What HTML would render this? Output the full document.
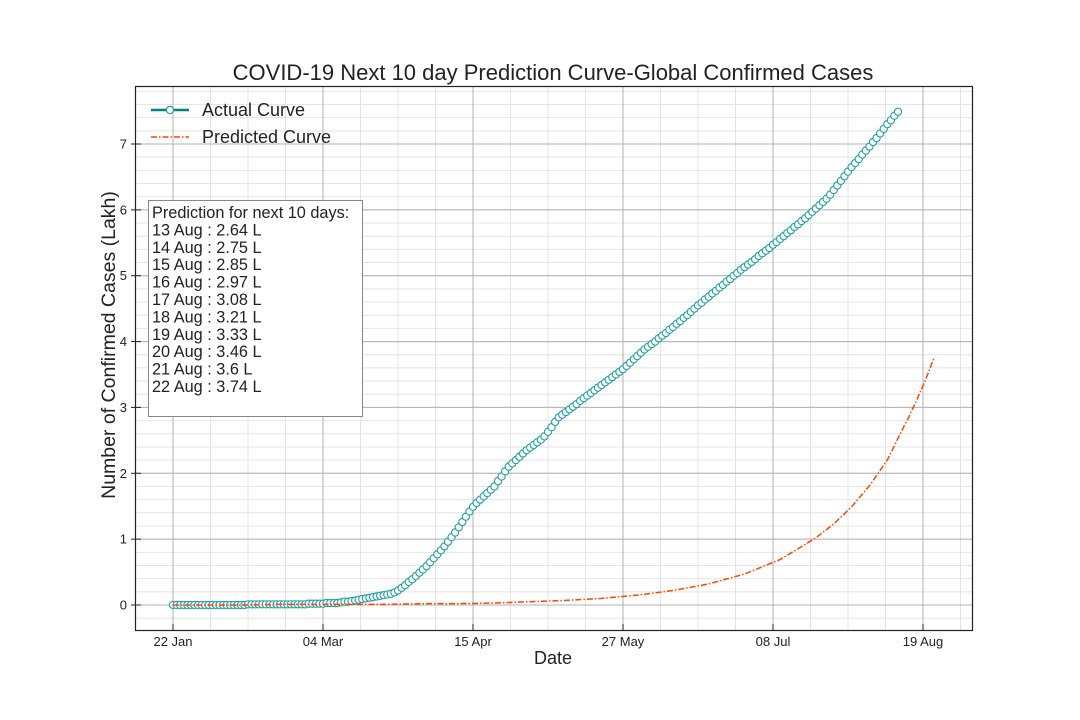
<!DOCTYPE html>
<html><head><meta charset="utf-8"><style>
body{margin:0;background:#fff}
svg{display:block;font-family:"Liberation Sans",sans-serif}
</style></head><body>
<svg id="chart" width="1080" height="720" xmlns="http://www.w3.org/2000/svg">
<rect width="1080" height="720" fill="#fff"/>
<text x="553" y="80" font-size="22" text-anchor="middle" fill="#222">COVID-19 Next 10 day Prediction Curve-Global Confirmed Cases</text>
<g id="grid"></g><g id="series"></g><g id="axes"></g>
<text x="553" y="664" font-size="18" text-anchor="middle" fill="#222">Date</text>
<text transform="translate(115,345) rotate(-90)" font-size="19.5" text-anchor="middle" fill="#222">Number of Confirmed Cases (Lakh)</text>
<g>
<line x1="151" y1="110" x2="189" y2="110" stroke="#008080" stroke-width="2.5"/>
<circle cx="170" cy="110" r="3.6" fill="#fff" stroke="#20a0a0" stroke-width="1.2"/>
<text x="202" y="116" font-size="18" fill="#222">Actual Curve</text>
<line x1="151" y1="137" x2="189" y2="137" stroke="#ff4500" stroke-width="1.5" stroke-dasharray="6,2,1.5,2"/>
<text x="202" y="143" font-size="18" fill="#222">Predicted Curve</text>
</g>
<g>
<rect x="148.5" y="200.5" width="214" height="216" fill="#fff" stroke="#888" stroke-width="1"/>
<g id="tb" font-size="16.3" fill="#222"></g>
</g>
</svg>
<script>
const startDate = new Date(2020,0,22);
const actualValues = [0,0,0,0,0,0,0,0,0,0,0,0,0,0,0,0,0,0,0,0,0,
0.01,0.01,0.01,0.01,0.01,0.01,0.01,0.01,0.01,0.01,0.01,0.01,0.01,0.01,0.01,0.01,0.01,
0.02,0.02,0.02,0.02,0.02,0.03,0.03,0.03,0.03,
0.04,0.05,0.05,0.06,0.07,0.08,0.09,0.10,0.11,0.12,0.13,0.14,0.15,0.16,0.17,0.19,0.22,0.26,0.30,0.35,0.39,0.44,0.49,0.54,0.59,0.65,0.71,0.77,0.83,0.89,0.96,1.03,1.10,1.18,1.26,1.34,1.42,1.49,1.55,1.60,1.65,1.70,1.75,1.80,1.88,1.95,2.03,2.10,2.15,2.20,2.25,2.30,2.35,2.39,2.43,2.47,2.51,2.56,2.63,2.70,2.78,2.85,2.89,2.93,2.97,3.01,3.05,3.10,3.14,3.18,3.22,3.26,3.30,3.34,3.38,3.42,3.46,3.50,3.54,3.58,3.63,3.68,3.73,3.78,3.83,3.88,3.92,3.96,4.00,4.05,4.09,4.13,4.18,4.22,4.27,4.31,4.36,4.40,4.45,4.50,4.55,4.59,4.64,4.68,4.73,4.77,4.82,4.86,4.91,4.95,5.00,5.04,5.09,5.13,5.17,5.21,5.25,5.30,5.34,5.38,5.42,5.47,5.51,5.56,5.60,5.65,5.69,5.74,5.78,5.83,5.87,5.92,5.97,6.02,6.07,6.12,6.17,6.23,6.30,6.37,6.44,6.51,6.58,6.65,6.71,6.77,6.84,6.90,6.96,7.03,7.09,7.16,7.23,7.30,7.36,7.43,7.49];
const predDays = [0,10,20,30,40,50,60,70,80,90,100,110,120,130,140,150,160,170,180,185,190,195,200,204,205,206,207,208,209,210,211,212,213];
const predValues = [0,0,0,0.01,0.01,0.01,0.01,0.02,0.02,0.03,0.05,0.07,0.10,0.15,0.22,0.32,0.47,0.69,1.02,1.23,1.49,1.81,2.20,2.64,2.75,2.85,2.97,3.08,3.21,3.33,3.46,3.6,3.74];
const predLabels = ["13 Aug : 2.64 L","14 Aug : 2.75 L","15 Aug : 2.85 L","16 Aug : 2.97 L","17 Aug : 3.08 L","18 Aug : 3.21 L","19 Aug : 3.33 L","20 Aug : 3.46 L","21 Aug : 3.6 L","22 Aug : 3.74 L"];
const xTickDays = [0,42,84,126,168,210];
const xTickLabels = ["22 Jan","04 Mar","15 Apr","27 May","08 Jul","19 Aug"];
const yTicks = [0,1,2,3,4,5,6,7];

const L=135,R=972,T=86,B=630;
const X=d=>173+d*(750/210);
const Y=v=>605-v*(461/7);
const NS="http://www.w3.org/2000/svg";
function mk(tag,attrs,parent){const e=document.createElementNS(NS,tag);for(const k in attrs)e.setAttribute(k,attrs[k]);parent.appendChild(e);return e;}
const grid=document.getElementById('grid'),series=document.getElementById('series'),axes=document.getElementById('axes');
for(let d=-10.5;d<=235;d+=10.5){const x=X(d);if(x<L||x>R)continue;const l=mk('line',{x1:x,x2:x,y1:T,y2:B,stroke:'#e4e4e4','stroke-width':1},grid);

}
for(let v=-0.4;v<=8.3;v+=0.2){const y=Y(v);if(y<T||y>B)continue;const l=mk('line',{x1:L,x2:R,y1:y,y2:y,stroke:'#e4e4e4','stroke-width':1},grid);

}
xTickDays.forEach((d,i)=>{const x=X(d);
const g=mk('line',{x1:x,x2:x,y1:T,y2:B,stroke:'#b0b0b0','stroke-width':1},grid);


mk('line',{x1:x,x2:x,y1:B-6,y2:B,stroke:'#222','stroke-width':1},axes);
const t=mk('text',{x:x,y:B+16,'font-size':13,'text-anchor':'middle',fill:'#222'},axes);t.textContent=xTickLabels[i];

});
yTicks.forEach(v=>{const y=Y(v);
const g=mk('line',{x1:L,x2:R,y1:y,y2:y,stroke:'#b0b0b0','stroke-width':1},grid);


mk('line',{x1:L-4,x2:L+6,y1:y,y2:y,stroke:'#222','stroke-width':1},axes);
const t=mk('text',{x:L-8,y:y+4.5,'font-size':13,'text-anchor':'end',fill:'#222'},axes);t.textContent=v;

});
const frame=mk('rect',{x:L+0.5,y:T+0.5,width:R-L,height:B-T,fill:'none',stroke:'#222','stroke-width':1.2},axes);


const al=mk('polyline',{points:actualValues.map((v,i)=>X(i)+','+Y(v)).join(' '),fill:'none',stroke:'#008080','stroke-width':1.5},series);


actualValues.forEach((v,i)=>{const c=mk('circle',{cx:X(i),cy:Y(v),r:3.6,fill:'#fff',stroke:'#20a0a0','stroke-width':1.1},series);

});
const pl=mk('polyline',{points:predDays.map((d,i)=>X(d)+','+Y(predValues[i])).join(' '),fill:'none',stroke:'#ff4500','stroke-width':1.5,'stroke-dasharray':'6,2,1.5,2'},series);


const tb=document.getElementById('tb');
["Prediction for next 10 days:"].concat(predLabels).forEach((s,i)=>{const t=mk('text',{x:152,y:218+i*17.4},tb);t.textContent=s;

});
</script>
</body></html>
